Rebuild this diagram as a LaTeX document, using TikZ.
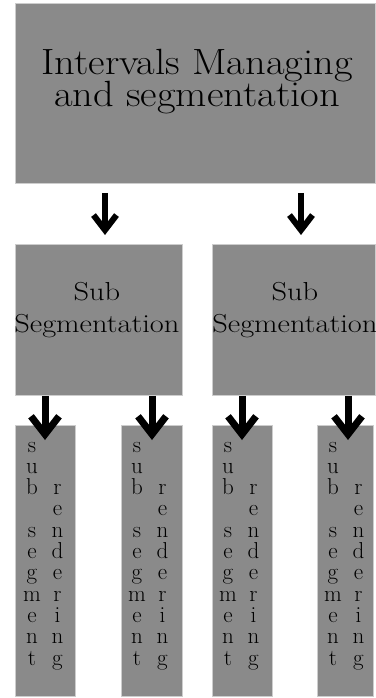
\documentclass[tikz,border=0pt]{standalone}
\usepackage{array}
\usepackage{graphicx}
\usetikzlibrary{arrows.meta,calc}
\definecolor{boxgray}{RGB}{138,138,138}
\definecolor{edgegray}{RGB}{205,205,205}
\newcommand{\widen}[2]{\scalebox{#1}[1]{#2}}
\newcolumntype{L}{>{\setbox0=\hbox\bgroup}w{c}{25.5pt}<{\egroup\smash{\box0}}}
\begin{document}
\begin{tikzpicture}[x=1pt,y=-1pt,
  box/.style={draw=edgegray, line width=0.8pt, fill=boxgray, inner sep=0pt, anchor=north west},
  bigarrow/.style={line width=6pt, -{Straight Barb[sharp, length=15pt, width=23pt]}, shorten <=9pt, shorten >=9pt},
  smallarrow/.style={line width=7pt, -{Straight Barb[sharp, length=18pt, width=28pt]}, shorten >=-15pt},
  titletext/.style={anchor=base, inner sep=0pt, font=\fontsize{36.5}{32}\selectfont},
  subtext/.style={anchor=base, inner sep=0pt, font=\fontsize{26}{32}\selectfont},
  lettertext/.style={anchor=base west, inner sep=0pt, font=\fontsize{23}{21.3}\selectfont}
]
\useasboundingbox (0,0) rectangle (375,698);
\fill[white] (0,0) rectangle (375,698);

% boxes
\node[box, minimum width=360pt, minimum height=180pt] (top) at (15,3) {};
\node[box, minimum width=167pt, minimum height=151pt] (subL) at (15,244) {};
\node[box, minimum width=163pt, minimum height=151pt] (subR) at (212,244) {};
\node[box, minimum width=60pt, minimum height=271pt] (t1) at (15,425) {};
\node[box, minimum width=61pt, minimum height=271pt] (t2) at (121,425) {};
\node[box, minimum width=60pt, minimum height=271pt] (t3) at (212,425) {};
\node[box, minimum width=56pt, minimum height=271pt] (t4) at (317,425) {};

% texts
\node[titletext] (toptext) at ($(top.north west)+(182,72)$)
  {\begin{tabular}[t]{@{}c@{}}\smash{\widen{1.11}{Intervals Managing}}\\\smash{\widen{1.11}{and segmentation}}\end{tabular}};
\node[subtext] (subLtext) at ($(subL.north)+(-2,56)$)
  {\begin{tabular}[t]{@{}c@{}}\widen{1.17}{Sub}\\\widen{1.17}{Segmentation}\end{tabular}};
\node[subtext] (subRtext) at ($(subR.north)+(1,56)$)
  {\begin{tabular}[t]{@{}c@{}}\widen{1.17}{Sub}\\\widen{1.17}{Segmentation}\end{tabular}};

\foreach \t/\dx in {t1/4, t2/3, t3/3, t4/3} {
  \node[lettertext] (\t text) at ($(\t.north west)+(\dx,27)$)
    {\begin{tabular}[t]{@{}L@{}L@{}}
      s & \\ u & \\ b & r\\ & e\\ s & n\\ e & d\\ g & e\\ m & r\\ e & i\\ n & n\\ t & g
     \end{tabular}};
}

% connectors
\draw[bigarrow] ($(top.south west)+(90,0)$) -- ($(subL.north west)+(90,0)$);
\draw[bigarrow] ($(top.south west)+(286,0)$) -- ($(subR.north west)+(89,0)$);
\draw[smallarrow] ($(subL.south west)+(30,0)$) -- ($(t1.north west)+(30,0)$);
\draw[smallarrow] ($(subL.south west)+(137,0)$) -- ($(t2.north west)+(31,0)$);
\draw[smallarrow] ($(subR.south west)+(30,0)$) -- ($(t3.north west)+(30,0)$);
\draw[smallarrow] ($(subR.south west)+(136,0)$) -- ($(t4.north west)+(31,0)$);
\end{tikzpicture}
\end{document}
